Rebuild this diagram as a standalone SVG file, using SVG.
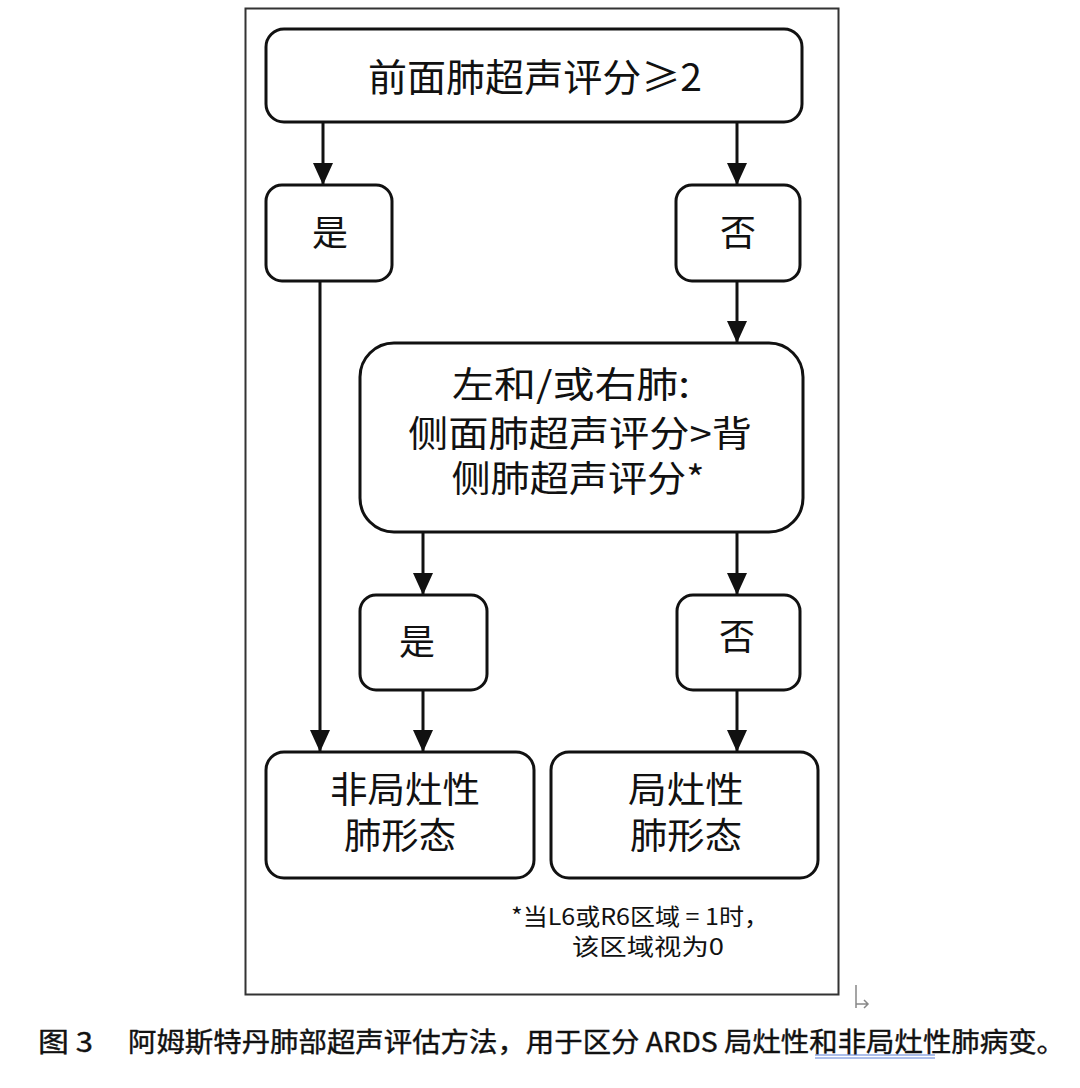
<svg xmlns="http://www.w3.org/2000/svg" width="1080" height="1088" viewBox="0 0 1080 1088">
<defs>
<style>
.box{fill:#fff;stroke:#111;stroke-width:3}
.t{font-family:"Noto Sans CJK SC","Liberation Sans",sans-serif;fill:#111;text-anchor:middle}
.c{stroke:#111;stroke-width:3;fill:none}
</style>
<marker id="arr" viewBox="0 0 22 20" refX="22" refY="10" markerWidth="22" markerHeight="20" markerUnits="userSpaceOnUse" orient="auto">
<path d="M0,0 L22,10 L0,20 Z" fill="#111"/>
</marker>
</defs>
<rect width="1080" height="1088" fill="#fff"/>
<rect x="245.5" y="8.5" width="593" height="986" fill="none" stroke="#333" stroke-width="2"/>

<g id="connectors">
<line class="c" x1="323" y1="122" x2="323" y2="185" marker-end="url(#arr)"/>
<line class="c" x1="737" y1="122" x2="737" y2="185" marker-end="url(#arr)"/>
<line class="c" x1="737" y1="281" x2="737" y2="343" marker-end="url(#arr)"/>
<line class="c" x1="320" y1="281" x2="320" y2="752" marker-end="url(#arr)"/>
<line class="c" x1="423" y1="532" x2="423" y2="595" marker-end="url(#arr)"/>
<line class="c" x1="737" y1="532" x2="737" y2="595" marker-end="url(#arr)"/>
<line class="c" x1="423" y1="690" x2="423" y2="752" marker-end="url(#arr)"/>
<line class="c" x1="737" y1="690" x2="737" y2="752" marker-end="url(#arr)"/>
</g>

<g id="n-top">
<rect class="box" x="266" y="29" width="536" height="93" rx="18"/>
<text class="t" x="535" y="91" font-size="38" textLength="334" lengthAdjust="spacingAndGlyphs">前面肺超声评分≥2</text>
</g>
<g id="n-yes1">
<rect class="box" x="266" y="185" width="126" height="96" rx="16"/>
<text class="t" x="330" y="246" font-size="36">是</text>
</g>
<g id="n-no1">
<rect class="box" x="676" y="185" width="124" height="96" rx="16"/>
<text class="t" x="738" y="246" font-size="36">否</text>
</g>
<g id="n-mid">
<rect class="box" x="360" y="343" width="443" height="189" rx="34"/>
<text class="t" x="571" y="398" font-size="36" textLength="238" lengthAdjust="spacingAndGlyphs">左和/或右肺:</text>
<text class="t" x="580" y="447" font-size="36" textLength="344" lengthAdjust="spacingAndGlyphs">侧面肺超声评分&gt;背</text>
<text class="t" x="578" y="492" font-size="36" textLength="253" lengthAdjust="spacingAndGlyphs">侧肺超声评分*</text>
</g>
<g id="n-yes2">
<rect class="box" x="360" y="595" width="127" height="95" rx="16"/>
<text class="t" x="417" y="655" font-size="36">是</text>
</g>
<g id="n-no2">
<rect class="box" x="677" y="595" width="123" height="95" rx="16"/>
<text class="t" x="737" y="650" font-size="36">否</text>
</g>
<g id="n-nonfocal">
<rect class="box" x="266" y="752" width="268" height="126" rx="18"/>
<text class="t" x="405" y="803" font-size="36" textLength="150" lengthAdjust="spacingAndGlyphs">非局灶性</text>
<text class="t" x="400" y="849" font-size="36" textLength="112" lengthAdjust="spacingAndGlyphs">肺形态</text>
</g>
<g id="n-focal">
<rect class="box" x="551" y="752" width="267" height="126" rx="18"/>
<text class="t" x="686" y="803" font-size="36" textLength="116" lengthAdjust="spacingAndGlyphs">局灶性</text>
<text class="t" x="686" y="849" font-size="36" textLength="112" lengthAdjust="spacingAndGlyphs">肺形态</text>
</g>

<g id="footnote">
<text class="t" x="640" y="925" font-size="23" textLength="258" lengthAdjust="spacingAndGlyphs">*当L6或R6区域 = 1时，</text>
<text class="t" x="648" y="955" font-size="23" textLength="152" lengthAdjust="spacingAndGlyphs">该区域视为0</text>
</g>

<path d="M856,985 V1008 M856,1004 H868 M864,1000 L868,1004 L864,1008" stroke="#888" stroke-width="1.5" fill="none"/>

<g id="caption" font-family="'Noto Sans CJK SC','Noto Sans',sans-serif" font-size="27" fill="#111" stroke="#111" stroke-width="0.4">
<text x="38" y="1052" textLength="55" lengthAdjust="spacingAndGlyphs">图 3</text>
<text x="128" y="1052" textLength="937" lengthAdjust="spacingAndGlyphs">阿姆斯特丹肺部超声评估方法，用于区分 ARDS 局灶性和非局灶性肺病变。</text>
</g>
<line x1="815" y1="1055" x2="935" y2="1055" stroke="#5b7fd6" stroke-width="1"/>
<line x1="815" y1="1058" x2="935" y2="1058" stroke="#5b7fd6" stroke-width="1"/>
</svg>
